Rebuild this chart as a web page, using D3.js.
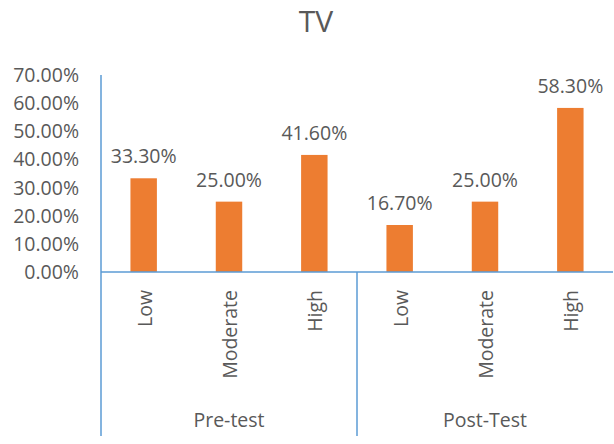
<!DOCTYPE html>
<html>
<head>
<meta charset="utf-8">
<script src="https://cdn.jsdelivr.net/npm/d3@7"></script>
<style>
  body { margin: 0; background: #fff; }
  text { font-family: "Open Sans", "Liberation Sans", sans-serif; fill: #595959; }
</style>
</head>
<body>
<div id="chart"></div>
<script>
const groups = ["Pre-test", "Post-Test"];
const levels = ["Low", "Moderate", "High"];
const preValues = [0.333, 0.25, 0.416];
const postValues = [0.167, 0.25, 0.583];
const yTicks = [0, 0.1, 0.2, 0.3, 0.4, 0.5, 0.6, 0.7];

const width = 614, height = 444;
const plotLeft = 101, plotRight = 613, plotTop = 75, baseline = 272, plotBottom = 436;
const fs = 19.5;

// flat rows for bars
const rows = [];
groups.forEach((g, gi) => {
  const vals = gi === 0 ? preValues : postValues;
  levels.forEach((l, li) => rows.push({ key: g + "|" + l, group: g, level: l, value: vals[li] }));
});

const svg = d3.select("#chart").append("svg")
  .attr("width", width).attr("height", height);

const x = d3.scaleBand().domain(rows.map(d => d.key)).range([plotLeft, plotRight]).paddingInner(0.69).paddingOuter(0.345);
const xg = d3.scaleBand().domain(groups).range([plotLeft, plotRight]);
const y = d3.scaleLinear().domain([0, 0.7]).range([baseline, plotTop]);

svg.append("text")
  .attr("x", 316).attr("y", 32)
  .attr("text-anchor", "middle")
  .attr("font-size", 30)
  .text("TV");

// y tick labels
svg.selectAll(".ytick").data(yTicks).join("text")
  .attr("class", "ytick")
  .attr("x", 79).attr("y", d => y(d) + 7)
  .attr("text-anchor", "end")
  .attr("font-size", fs)
  .text(d => d3.format(".2%")(d));

// bars
svg.selectAll(".bar").data(rows).join("rect")
  .attr("class", "bar")
  .attr("x", d => x(d.key)).attr("width", x.bandwidth())
  .attr("y", d => y(d.value)).attr("height", d => baseline - y(d.value))
  .attr("fill", "#ED7D31");

svg.selectAll(".val").data(rows).join("text")
  .attr("class", "val")
  .attr("x", d => x(d.key) + x.bandwidth() / 2)
  .attr("y", d => y(d.value) - 15)
  .attr("text-anchor", "middle")
  .attr("font-size", fs)
  .text(d => d3.format(".2%")(d.value));

// axis lines
const axisColor = "#5B9BD5";
svg.append("line").attr("x1", plotLeft).attr("x2", plotLeft).attr("y1", plotTop).attr("y2", plotBottom)
  .attr("stroke", axisColor).attr("stroke-width", 1.5);
svg.append("line").attr("x1", plotLeft).attr("x2", plotRight).attr("y1", baseline).attr("y2", baseline)
  .attr("stroke", axisColor).attr("stroke-width", 1.5);
svg.selectAll(".sep").data(groups.slice(1)).join("line")
  .attr("class", "sep")
  .attr("x1", d => xg(d)).attr("x2", d => xg(d))
  .attr("y1", baseline).attr("y2", plotBottom)
  .attr("stroke", axisColor).attr("stroke-width", 1.5);

// category labels, rotated
svg.selectAll(".cat").data(rows).join("text")
  .attr("class", "cat")
  .attr("transform", d => "translate(" + (x(d.key) + x.bandwidth() / 2 + 8) + "," + 290 + ") rotate(-90)")
  .attr("text-anchor", "end")
  .attr("font-size", fs)
  .text(d => d.level);

svg.selectAll(".grp").data(groups).join("text")
  .attr("class", "grp")
  .attr("x", d => xg(d) + xg.bandwidth() / 2)
  .attr("y", 427)
  .attr("text-anchor", "middle")
  .attr("font-size", fs)
  .text(d => d);
</script>
</body>
</html>
